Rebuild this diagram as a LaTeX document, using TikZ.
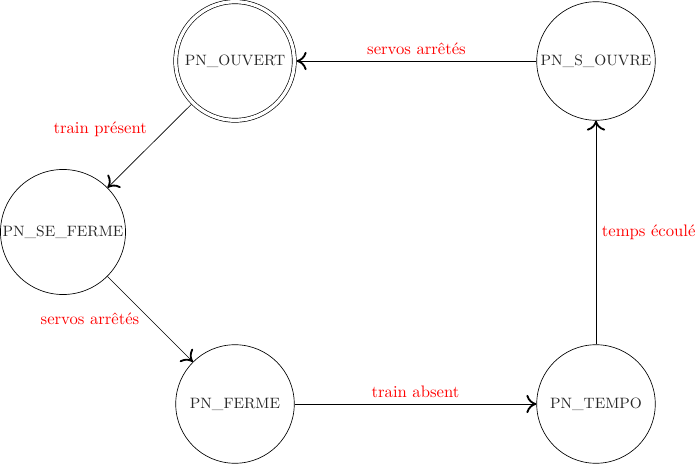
\documentclass[tikz,border=0pt]{standalone}
\usetikzlibrary{arrows.meta}
\begin{document}
\begin{tikzpicture}[x=0.6pt,y=-0.6pt,
  state/.style={circle,draw,minimum size=2.5cm,inner sep=1pt,font=\small,text=black!85},
  final/.style={double,double distance=2pt,outer sep=1.4pt},
  trans/.style={draw,-{To[length=6pt,width=11pt,line width=1.1pt]}},
  lbl/.style={text=red}]
\useasboundingbox (0,0) rectangle (700,465);
\node[state,final] (ouvert) at (235,61) {PN\_OUVERT};
\node[state] (souvre) at (596,61) {PN\_S\_OUVRE};
\node[state,minimum size=74pt] (seferme) at (63,232) {PN\_SE\_FERME};
\node[state] (ferme) at (235,404) {PN\_FERME};
\node[state] (tempo) at (596,404) {PN\_TEMPO};
\draw[trans] (souvre) -- node[lbl,above] (l1) {servos arrêtés} (ouvert);
\draw[trans] (ouvert) -- node[lbl,above left,xshift=2pt,yshift=2pt] (l2) {train présent} (seferme);
\draw[trans] (seferme) -- node[lbl,left,xshift=-3pt] (l3) {servos arrêtés} (ferme);
\draw[trans] (ferme) -- node[lbl,above] (l4) {train absent} (tempo);
\draw[trans] (tempo) -- node[lbl,right] (l5) {temps écoulé} (souvre);
\end{tikzpicture}
\end{document}
